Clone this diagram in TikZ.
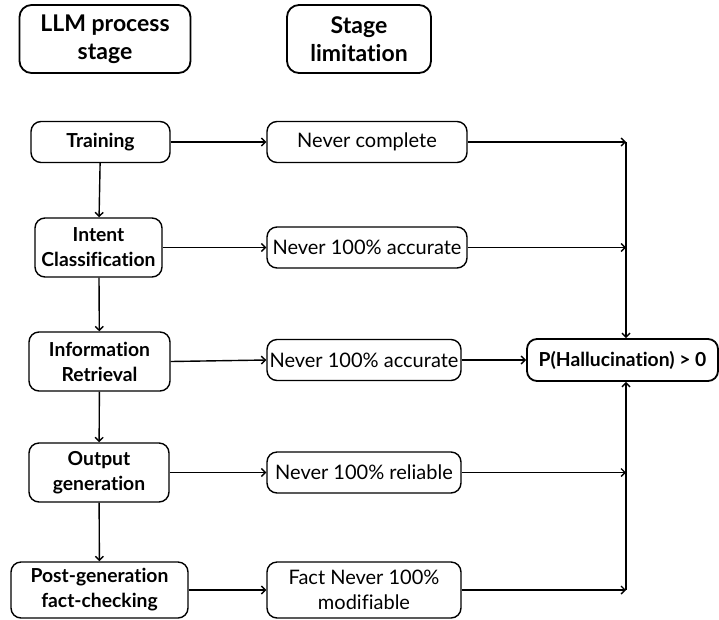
\documentclass[tikz,border=0pt]{standalone}
\usepackage{fontspec}
\setmainfont{Lato}[Ligatures = NoCommon]
\usetikzlibrary{arrows.meta}
\begin{document}
\begin{tikzpicture}[x = 1pt, y = -1pt,
  box/.style = {draw, line width = 1.4pt, rounded corners = 10pt, align = center,
  inner sep = 0pt, font = \fontsize{20}{25}\selectfont},
  stagebox/.style = {box, font = \fontsize{19.3}{25}\selectfont\bfseries},
  headbox/.style = {box, line width = 1.8pt, rounded corners = 12pt,
  font = \fontsize{23}{28}\selectfont\bfseries},
  link/.style = {line width = 1.4pt, -{Straight Barb[length = 4pt, width = 8pt]}}]
  \useasboundingbox (0, 0) rectangle (719, 619);
  \node[headbox, minimum width = 171, minimum height = 68] (hstage) at (105, 39)
  {LLM process\\stage};
  \node[headbox, minimum width = 144, minimum height = 68] (hlimit) at (359, 39)
  {Stage\\limitation};
  \node[stagebox, minimum width = 139, minimum height = 41] (train) at (100.5, 142)
  {Training};
  \node[stagebox, minimum width = 127, minimum height = 59] (intent) at (98.5, 247.5)
  {Intent\\Classification};
  \node[stagebox, minimum width = 141, minimum height = 59] (retr) at (99.5, 361.5)
  {Information\\Retrieval};
  \node[stagebox, minimum width = 140, minimum height = 59] (outgen) at (99, 472.5)
  {Output\\generation};
  \node[stagebox, minimum width = 177, minimum height = 56] (check) at (99.5, 590)
  {Post-generation\\fact-checking};
  \node[box, minimum width = 200, minimum height = 41] (lcomp) at (367, 142)
  {Never complete};
  \node[box, minimum width = 200, minimum height = 41] (lacca) at (367, 247.5)
  {Never 100\% accurate};
  \node[box, minimum width = 194, minimum height = 41] (laccb) at (364, 360)
  {Never 100\% accurate};
  \node[box, minimum width = 194, minimum height = 41] (lrel) at (364, 472.5)
  {Never 100\% reliable};
  \node[box, minimum width = 194, minimum height = 56] (lmod) at (364, 590)
  {Fact Never 100\%\\modifiable};
  \node[stagebox, line width = 1.8pt, minimum width = 191, minimum height = 42]
  (hall) at (622.5, 360) {P(Hallucination) > 0};
  \coordinate (jtop) at (626, 142);
  \coordinate (jbot) at (626, 590);
  \draw[link] (train) -- (intent);
  \draw[link] (intent.south -| 99, 0) -- (retr);
  \draw[link] (retr) -- (outgen);
  \draw[link] (outgen) -- (check);
  \draw[link] (train) -- (lcomp);
  \draw[link] (intent) -- (lacca);
  \draw[link] (retr.east) -- (laccb.west);
  \draw[link] (outgen) -- (lrel);
  \draw[link] (check) -- (lmod);
  \draw[link] (laccb) -- (hall);
  \draw[link] (lcomp) -- (jtop);
  \draw[link] (lacca) -- (jtop |- lacca);
  \draw[link] (lrel) -- (jbot |- lrel);
  \draw[link] (lmod) -- (jbot);
  \draw[link] (jtop) -- (jtop |- hall.north);
  \draw[link] (jbot) -- (jbot |- hall.south);
\end{tikzpicture}
\end{document}
